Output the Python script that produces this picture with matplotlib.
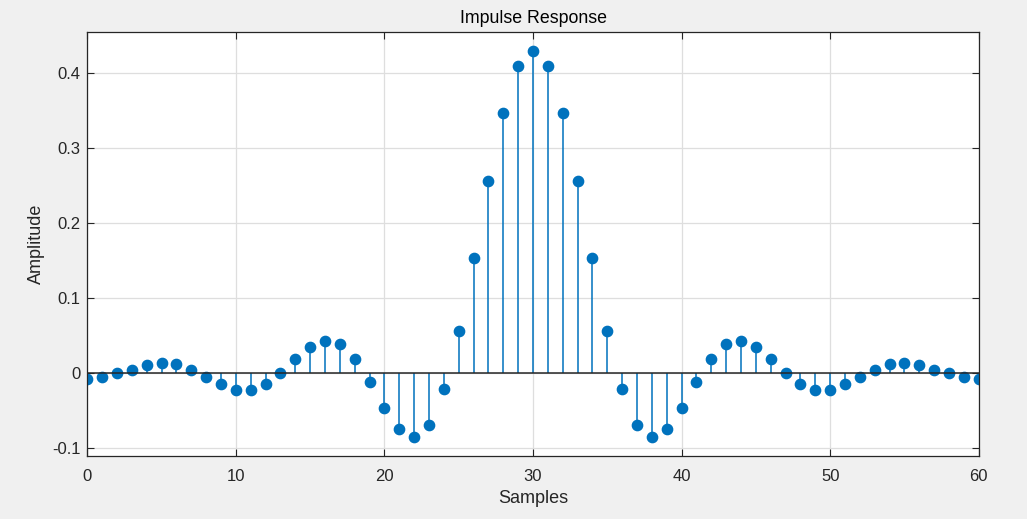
import matplotlib
matplotlib.use("Agg")
import matplotlib.pyplot as plt
import numpy as np

plt.rcParams['font.family'] = ['Liberation Sans', 'DejaVu Sans']

samples = list(range(61))
half = [-0.007, -0.0045, 0.0, 0.005, 0.0107, 0.0133, 0.012, 0.005, -0.0045, -0.0147,
        -0.0222, -0.0226, -0.0147, 0.0, 0.0187, 0.0356, 0.0436, 0.0387, 0.0196, -0.0111,
        -0.0465, -0.0749, -0.0853, -0.069, -0.021, 0.0564, 0.1538, 0.2564, 0.3471, 0.4093]
peak = [0.4302]
amplitude = half + peak + half[::-1]

xticks = [0, 10, 20, 30, 40, 50, 60]
yticks = [-0.1, 0, 0.1, 0.2, 0.3, 0.4]
ytick_labels = ['-0.1', '0', '0.1', '0.2', '0.3', '0.4']

color = '#0072BD'
fig = plt.figure(figsize=(10.27, 5.19), dpi=100, facecolor='#f0f0f0')
ax = fig.add_axes([0.085, 0.1214, 0.868, 0.8176])
ax.set_facecolor('white')

ml, sl, bl = ax.stem(samples, amplitude)
plt.setp(sl, color=color, linewidth=1.1)
plt.setp(ml, color=color, markersize=7.4, markerfacecolor=color, markeredgecolor=color)
plt.setp(bl, color='#262626', linewidth=1.1)

ax.set_xlim(0, 60)
ax.set_ylim(-0.1103, 0.4555)
ax.set_xticks(xticks)
ax.set_yticks(yticks)
ax.set_yticklabels(ytick_labels)
ax.grid(True, color='#dedede', linewidth=0.9)
ax.set_axisbelow(True)
ax.tick_params(direction='in', top=True, right=True, length=5, width=0.8,
               colors='#262626', labelsize=12, labelcolor='#262626')
ax.tick_params(axis='x', pad=9.5)
ax.tick_params(axis='y', pad=5)
for s in ax.spines.values():
    s.set_color('#262626')
    s.set_linewidth(0.9)

ax.set_title('Impulse Response', fontsize=12.8, color='#000000', pad=6)
ax.set_xlabel('Samples', fontsize=13, color='#262626', labelpad=4)
ax.set_ylabel('Amplitude', fontsize=13, color='#262626', labelpad=5)

fig.savefig('out.png', dpi=100, facecolor=fig.get_facecolor())
